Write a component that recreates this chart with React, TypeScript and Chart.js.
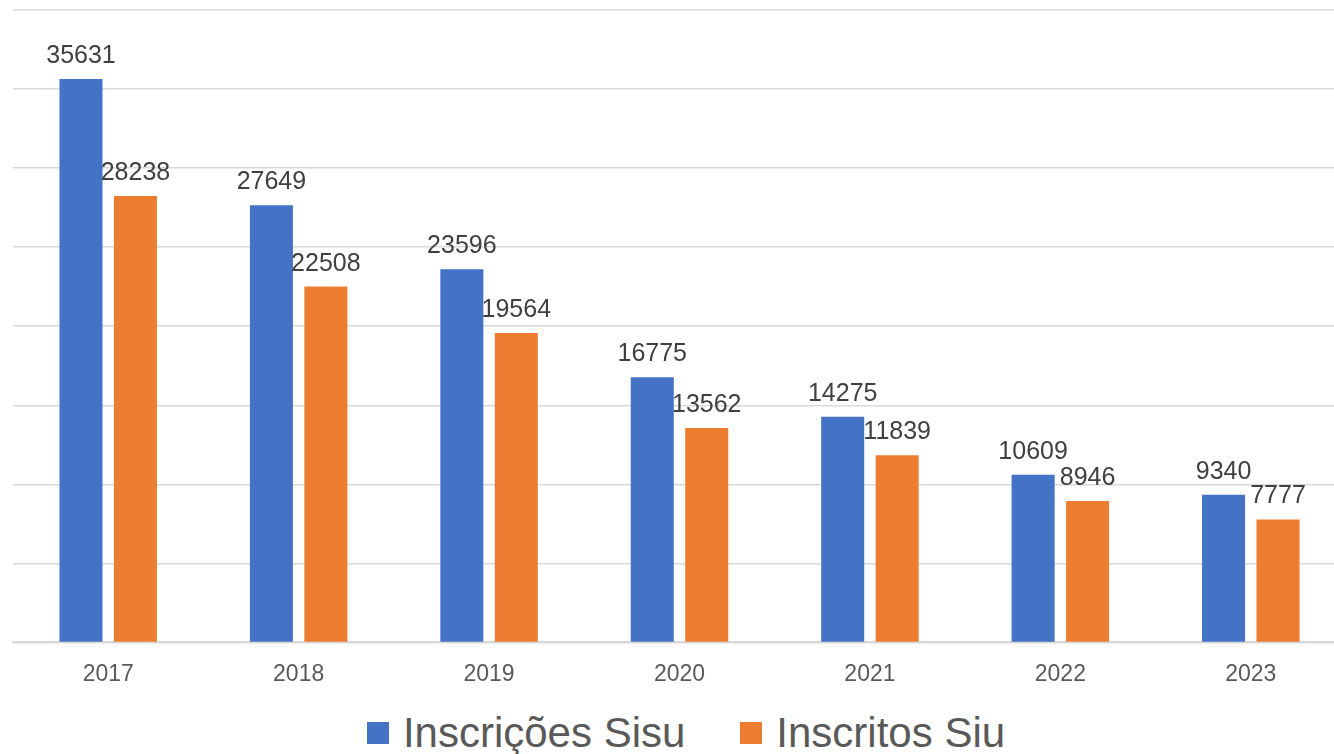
import React, { useEffect, useRef } from "react";
import { Chart, registerables } from "chart.js";

Chart.register(...registerables);

const categories = ["2017", "2018", "2019", "2020", "2021", "2022", "2023"];
const seriesNames = ["Inscrições Sisu", "Inscritos Siu"];
const inscricoesSisu = [35631, 27649, 23596, 16775, 14275, 10609, 9340];
const inscritosSiu = [28238, 22508, 19564, 13562, 11839, 8946, 7777];
const seriesColors = ["#4472C4", "#ED7D31"];

const FONT = "'Liberation Sans', Arial, sans-serif";

const dataLabelPlugin = {
  id: "dataLabels",
  afterDatasetsDraw(chart: any) {
    const ctx = chart.ctx;
    ctx.save();
    ctx.font = `25px ${FONT}`;
    ctx.fillStyle = "#404040";
    ctx.textAlign = "center";
    ctx.textBaseline = "alphabetic";
    chart.data.datasets.forEach((ds: any, di: number) => {
      const meta = chart.getDatasetMeta(di);
      meta.data.forEach((bar: any, i: number) => {
        ctx.fillText(String(ds.data[i]), bar.x, bar.y - 16);
      });
    });
    ctx.restore();
  },
};

export default function App() {
  const canvasRef = useRef<HTMLCanvasElement | null>(null);

  useEffect(() => {
    if (!canvasRef.current) return;
    const chart = new Chart(canvasRef.current, {
      type: "bar",
      data: {
        labels: categories,
        datasets: [
          {
            label: seriesNames[0],
            data: inscricoesSisu,
            backgroundColor: seriesColors[0],
            categoryPercentage: 0.572,
            barPercentage: 0.79,
          },
          {
            label: seriesNames[1],
            data: inscritosSiu,
            backgroundColor: seriesColors[1],
            categoryPercentage: 0.572,
            barPercentage: 0.79,
          },
        ],
      },
      options: {
        responsive: false,
        animation: false,
        layout: { padding: { left: 13, top: 10, right: 0, bottom: 0 } },
        plugins: {
          legend: { display: false },
          tooltip: { enabled: false },
        },
        scales: {
          x: {
            grid: { display: false, drawTicks: false, tickLength: 0 },
            border: { display: true, color: "#d9d9d9", width: 2 },
            ticks: {
              color: "#595959",
              font: { family: FONT, size: 23 },
              padding: 18,
            },
          },
          y: {
            min: 0,
            max: 40000,
            ticks: { display: false, stepSize: 5000 },
            grid: { color: "#d9d9d9", lineWidth: 1.5, drawTicks: false, tickLength: 0 },
            border: { display: false },
          },
        },
      },
      plugins: [dataLabelPlugin],
    });
    return () => chart.destroy();
  }, []);

  return (
    <div
      style={{
        position: "fixed",
        left: 0,
        top: 0,
        width: 1334,
        height: 754,
        overflow: "hidden",
        background: "#ffffff",
      }}
    >
      <canvas
        ref={canvasRef}
        width={1346}
        height={706}
        style={{ position: "absolute", left: 0, top: 0 }}
      />
      <div
        style={{
          position: "absolute",
          left: 0,
          top: 712,
          width: 1372,
          height: 42,
          display: "flex",
          justifyContent: "center",
          alignItems: "center",
          fontFamily: FONT,
          fontSize: 42,
          lineHeight: "42px",
          color: "#595959",
          whiteSpace: "nowrap",
        }}
      >
        {seriesNames.map((name, i) => (
          <div
            key={name}
            style={{ display: "flex", alignItems: "center", marginLeft: i === 0 ? 0 : 55 }}
          >
            <span
              style={{
                display: "inline-block",
                width: 22,
                height: 22,
                background: seriesColors[i],
                marginRight: 14,
              }}
            />
            <span>{name}</span>
          </div>
        ))}
      </div>
    </div>
  );
}
